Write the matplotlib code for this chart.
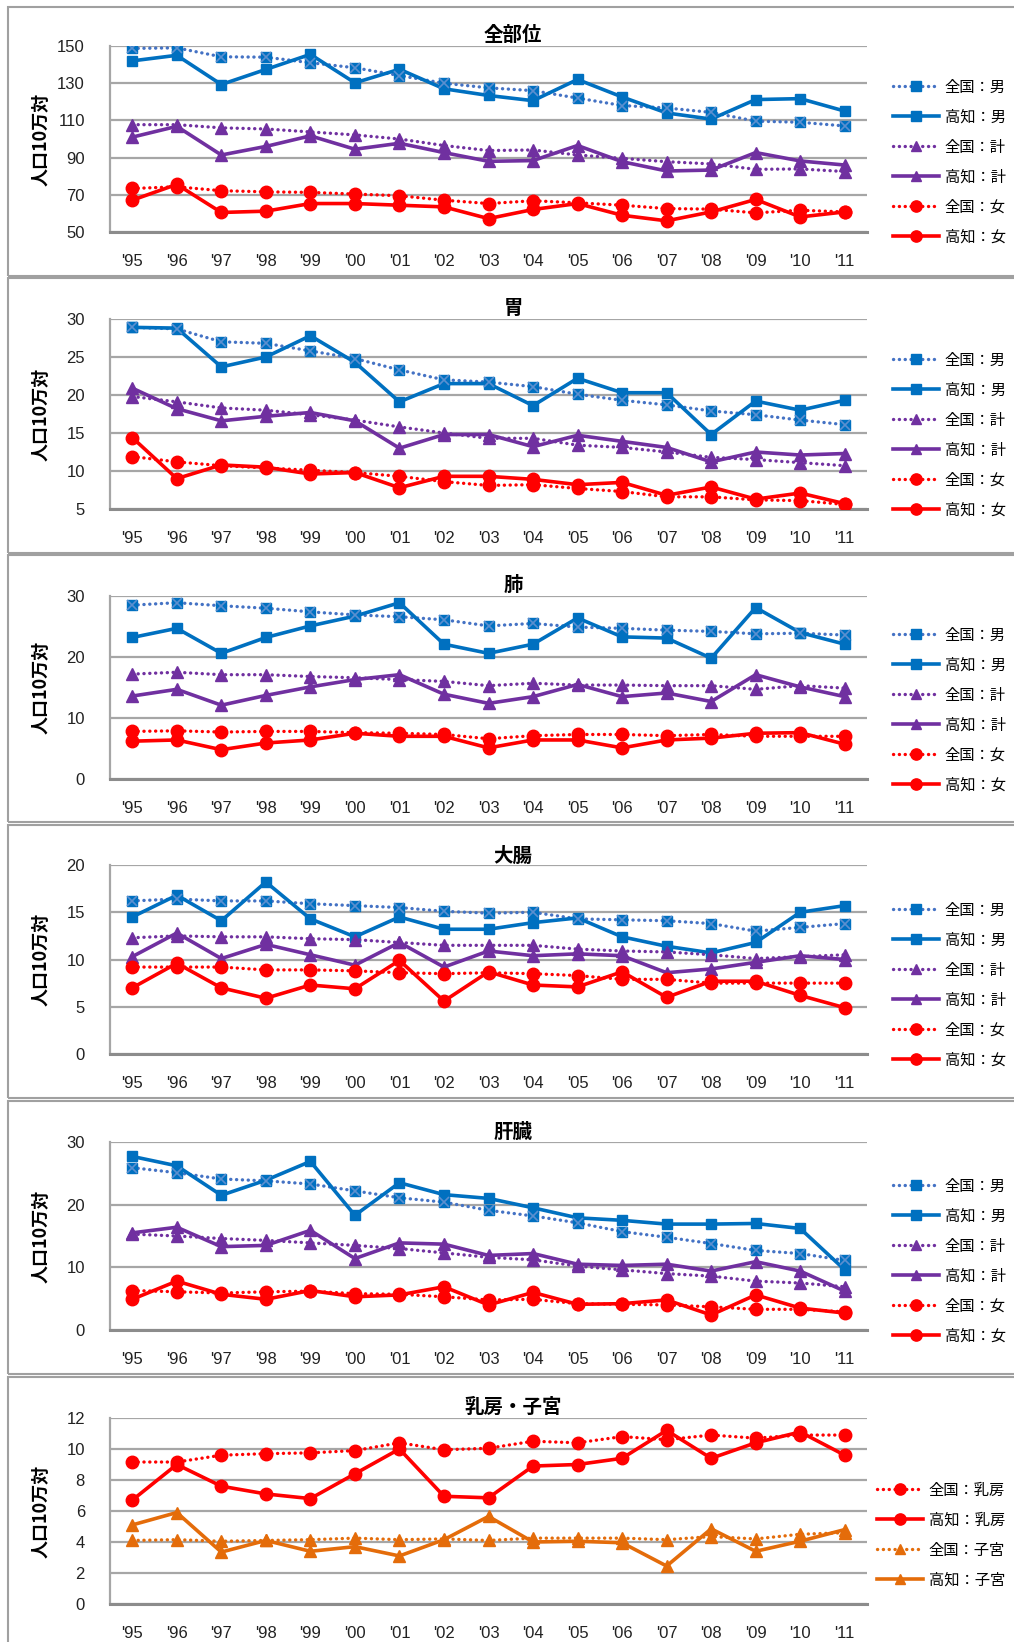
import matplotlib
matplotlib.use('Agg')
import matplotlib.pyplot as plt
from matplotlib.patches import Rectangle

plt.rcParams['font.family'] = ['Noto Sans CJK JP', 'DejaVu Sans']

years = ["'95", "'96", "'97", "'98", "'99", "'00", "'01", "'02", "'03",
         "'04", "'05", "'06", "'07", "'08", "'09", "'10", "'11"]

# 全部位
all_nat_m = [148.7, 149.0, 144.2, 144.0, 141.0, 138.3, 134.1, 130.0, 127.5, 126.0, 122.0, 118.0, 116.7, 114.3, 109.6, 109.0, 107.0]
all_koc_m = [142.0, 145.0, 129.3, 137.4, 145.5, 130.2, 137.5, 127.0, 123.4, 120.6, 132.0, 122.6, 114.0, 110.7, 121.2, 121.7, 115.0]
all_nat_t = [107.7, 107.7, 106.0, 105.4, 103.8, 102.2, 100.0, 96.5, 93.8, 94.1, 91.4, 89.6, 87.8, 86.6, 83.7, 83.9, 82.5]
all_koc_t = [101.0, 106.8, 91.4, 96.0, 101.7, 94.5, 97.7, 92.7, 88.0, 88.4, 96.5, 87.8, 82.8, 83.3, 92.7, 88.2, 86.0]
all_nat_f = [73.4, 74.3, 72.2, 71.6, 71.3, 70.4, 69.5, 67.1, 65.3, 66.8, 65.7, 64.4, 62.6, 62.3, 60.3, 61.7, 60.8]
all_koc_f = [67.1, 75.6, 60.5, 61.2, 65.3, 65.3, 64.4, 63.5, 57.2, 62.1, 65.3, 59.0, 56.0, 60.8, 67.5, 58.1, 60.8]

# 胃
st_nat_m = [28.9, 28.7, 27.0, 26.8, 25.8, 24.8, 23.3, 22.0, 21.7, 21.1, 20.1, 19.3, 18.7, 17.9, 17.4, 16.7, 16.1]
st_koc_m = [28.9, 28.8, 23.7, 25.0, 27.8, 24.3, 19.1, 21.5, 21.5, 18.6, 22.2, 20.3, 20.3, 14.8, 19.2, 18.0, 19.3]
st_nat_t = [19.8, 19.1, 18.3, 18.0, 17.4, 16.7, 15.8, 15.0, 14.3, 14.3, 13.4, 13.1, 12.5, 11.8, 11.5, 11.1, 10.7]
st_koc_t = [20.9, 18.2, 16.6, 17.2, 17.7, 16.6, 13.0, 14.8, 14.8, 13.2, 14.7, 13.9, 13.1, 11.2, 12.5, 12.1, 12.3]
st_nat_f = [11.9, 11.2, 10.7, 10.4, 10.1, 9.8, 9.3, 8.6, 8.1, 8.2, 7.7, 7.3, 6.6, 6.6, 6.2, 6.1, 5.6]
st_koc_f = [14.4, 9.0, 10.8, 10.5, 9.6, 9.8, 7.8, 9.3, 9.3, 8.9, 8.2, 8.5, 6.8, 7.9, 6.3, 7.1, 5.7]

# 肺
lu_nat_m = [28.5, 28.9, 28.4, 28.0, 27.4, 26.9, 26.6, 26.1, 25.1, 25.5, 24.9, 24.7, 24.4, 24.2, 23.8, 23.9, 23.6]
lu_koc_m = [23.2, 24.7, 20.6, 23.2, 25.1, 26.7, 28.9, 22.1, 20.6, 22.1, 26.4, 23.3, 23.1, 19.8, 28.1, 24.0, 22.1]
lu_nat_t = [17.2, 17.5, 17.1, 17.1, 16.8, 16.6, 16.3, 16.0, 15.3, 15.7, 15.4, 15.4, 15.3, 15.3, 14.7, 15.3, 14.9]
lu_koc_t = [13.6, 14.7, 12.1, 13.7, 15.1, 16.3, 17.1, 13.9, 12.4, 13.5, 15.5, 13.5, 14.1, 12.7, 17.1, 15.1, 13.5]
lu_nat_f = [7.8, 7.9, 7.7, 7.8, 7.8, 7.6, 7.5, 7.3, 6.6, 7.1, 7.3, 7.3, 7.1, 7.3, 7.0, 7.0, 7.0]
lu_koc_f = [6.2, 6.4, 4.8, 5.9, 6.4, 7.5, 7.0, 7.0, 5.1, 6.4, 6.4, 5.1, 6.4, 6.7, 7.5, 7.6, 5.7]

# 大腸
co_nat_m = [16.2, 16.4, 16.2, 16.2, 15.9, 15.7, 15.5, 15.1, 14.9, 15.0, 14.3, 14.2, 14.1, 13.8, 13.0, 13.4, 13.8]
co_koc_m = [14.5, 16.8, 14.1, 18.2, 14.3, 12.4, 14.5, 13.2, 13.2, 13.9, 14.4, 12.4, 11.4, 10.7, 11.8, 15.0, 15.7]
co_nat_t = [12.3, 12.5, 12.4, 12.4, 12.2, 12.1, 11.8, 11.5, 11.5, 11.5, 11.1, 10.9, 10.8, 10.5, 10.1, 10.3, 10.5]
co_koc_t = [10.3, 12.8, 10.1, 11.6, 10.5, 9.4, 11.8, 9.2, 10.9, 10.4, 10.6, 10.4, 8.6, 9.0, 9.7, 10.4, 10.0]
co_nat_f = [9.2, 9.2, 9.2, 8.9, 8.9, 8.8, 8.6, 8.5, 8.6, 8.5, 8.3, 7.9, 7.9, 7.5, 7.5, 7.5, 7.5]
co_koc_f = [7.0, 9.6, 7.0, 5.9, 7.3, 6.9, 9.9, 5.6, 8.7, 7.3, 7.1, 8.7, 6.0, 7.7, 7.7, 6.2, 4.9]

# 肝臓
li_nat_m = [25.9, 25.1, 24.1, 23.8, 23.3, 22.2, 21.1, 20.4, 19.1, 18.2, 17.1, 15.7, 14.8, 13.8, 12.7, 12.2, 11.1]
li_koc_m = [27.7, 26.2, 21.5, 23.9, 26.9, 18.3, 23.5, 21.6, 21.0, 19.5, 17.9, 17.5, 16.9, 16.9, 17.0, 16.2, 9.6]
li_nat_t = [15.3, 15.0, 14.6, 14.3, 13.9, 13.5, 13.0, 12.3, 11.6, 11.2, 10.2, 9.6, 9.0, 8.6, 7.8, 7.5, 6.9]
li_koc_t = [15.5, 16.4, 13.3, 13.5, 15.9, 11.4, 13.9, 13.7, 11.9, 12.2, 10.5, 10.3, 10.5, 9.4, 10.9, 9.4, 6.2]
li_nat_f = [6.3, 6.1, 5.9, 6.1, 6.2, 5.8, 5.7, 5.3, 4.8, 4.9, 4.2, 4.1, 4.0, 3.7, 3.3, 3.3, 2.9]
li_koc_f = [4.9, 7.8, 5.7, 4.9, 6.3, 5.3, 5.6, 6.9, 4.0, 6.0, 4.1, 4.2, 4.8, 2.4, 5.6, 3.5, 2.7]

# 乳房・子宮
br_nat = [9.16, 9.16, 9.6, 9.7, 9.75, 9.9, 10.4, 9.95, 10.05, 10.5, 10.4, 10.8, 10.6, 10.9, 10.7, 10.9, 10.9]
br_koc = [6.7, 9.0, 7.6, 7.1, 6.8, 8.4, 10.0, 6.95, 6.85, 8.9, 9.0, 9.4, 11.2, 9.4, 10.4, 11.1, 9.6]
ut_nat = [4.1, 4.15, 4.05, 4.1, 4.15, 4.25, 4.15, 4.2, 4.1, 4.25, 4.25, 4.25, 4.15, 4.35, 4.2, 4.5, 4.6]
ut_koc = [5.1, 5.9, 3.35, 4.1, 3.4, 3.7, 3.1, 4.15, 5.65, 4.0, 4.05, 3.95, 2.45, 4.85, 3.4, 4.05, 4.8]

BLUE = '#0070C0'
BLUE_D = '#4472C4'
PURPLE = '#7030A0'
RED = '#FF0000'
ORANGE = '#E46C0A'
DOT = (0, (0.05, 1.7))

W, H = 1014, 1642
fig = plt.figure(figsize=(W / 100, H / 100), dpi=100)

# panel frames (pixel coords: top, bottom)
frames = [(7, 276), (278, 553), (555, 822), (825, 1098), (1101, 1374), (1377, 1660)]
for top, bot in frames:
    fig.patches.append(Rectangle((8 / W, 1 - bot / H), (W + 20) / W, (bot - top) / H,
                                 transform=fig.transFigure, fill=False,
                                 edgecolor='#A0A0A0', lw=1.5, zorder=0))


def series(kind, label, vals, ax):
    col = {'m': BLUE, 't': PURPLE, 'f': RED, 'b': RED, 'u': ORANGE}[kind[1]]
    mk = {'m': 's', 't': '^', 'f': 'o', 'b': 'o', 'u': '^'}[kind[1]]
    ms = {'s': 7.5, '^': 8.5, 'o': 9}[mk]
    x = range(len(vals))
    if kind[0] == 'n':
        lc = BLUE_D if kind[1] == 'm' else col
        ax.plot(x, vals, color=lc, ls=DOT, lw=2.4, dash_capstyle='round',
                marker=mk, ms=ms, mfc=col, mec=col, label=label, zorder=3)
        if kind[1] == 'm':
            ax.plot(x, vals, ls='none', marker='x', ms=ms - 1, mew=1.2,
                    color='#5B8FD0', zorder=4)
    else:
        ax.plot(x, vals, color=col, ls='-', lw=2.6, marker=mk, ms=ms,
                mfc=col, mec=col, label=label, zorder=3)


def panel(top, bot, title, ylim, yticks, data, leg_y, leg_x, title_y):
    ax = fig.add_axes([110 / W, 1 - bot / H, (867 - 110) / W, (bot - top) / H])
    for kind, label, vals in data:
        series(kind, label, vals, ax)
    ax.set_xlim(-0.5, len(years) - 0.5)
    ax.set_ylim(*ylim)
    ax.set_yticks(yticks)
    ax.set_xticks(range(len(years)))
    ax.set_xticklabels(years)
    ax.grid(axis='y', color='#A6A6A6', lw=1.6)
    ax.set_axisbelow(True)
    for s in ['top', 'right']:
        ax.spines[s].set_visible(False)
    ax.spines['left'].set_color('#A6A6A6')
    ax.spines['left'].set_linewidth(1.6)
    ax.spines['bottom'].set_color('#8C8C8C')
    ax.spines['bottom'].set_linewidth(2.2)
    ax.tick_params(length=0, labelsize=12)
    ax.tick_params(axis='x', pad=16)
    ax.tick_params(axis='y', pad=18)
    for t in ax.get_xticklabels() + ax.get_yticklabels():
        t.set_family(['Liberation Sans Narrow', 'Liberation Sans', 'DejaVu Sans'])
        t.set_color('#222222')
    ax.set_ylabel('人口10万対', fontsize=13, fontweight='bold')
    ax.yaxis.set_label_coords(-(110 - 51) / (867 - 110), 0.5)
    fig.text(513 / W, 1 - title_y / H, title, fontsize=14, fontweight='bold',
             ha='center', va='center')
    ax.legend(loc='center left', bbox_to_anchor=(leg_x / W, 1 - leg_y / H),
              bbox_transform=fig.transFigure, frameon=False, fontsize=11,
              handlelength=3.0, handletextpad=0.4, labelspacing=0.85,
              borderaxespad=0, borderpad=0, markerscale=0.9)
    return ax


panel(46, 232, '全部位', (50, 150), range(50, 151, 20),
      [('nm', '全国：男', all_nat_m), ('km', '高知：男', all_koc_m),
       ('nt', '全国：計', all_nat_t), ('kt', '高知：計', all_koc_t),
       ('nf', '全国：女', all_nat_f), ('kf', '高知：女', all_koc_f)],
      162, 893, 35)

panel(319, 509, '胃', (5, 30), range(5, 31, 5),
      [('nm', '全国：男', st_nat_m), ('km', '高知：男', st_koc_m),
       ('nt', '全国：計', st_nat_t), ('kt', '高知：計', st_koc_t),
       ('nf', '全国：女', st_nat_f), ('kf', '高知：女', st_koc_f)],
      435, 893, 308)

panel(596, 779, '肺', (0, 30), range(0, 31, 10),
      [('nm', '全国：男', lu_nat_m), ('km', '高知：男', lu_koc_m),
       ('nt', '全国：計', lu_nat_t), ('kt', '高知：計', lu_koc_t),
       ('nf', '全国：女', lu_nat_f), ('kf', '高知：女', lu_koc_f)],
      710, 893, 585)

panel(865, 1054, '大腸', (0, 20), range(0, 21, 5),
      [('nm', '全国：男', co_nat_m), ('km', '高知：男', co_koc_m),
       ('nt', '全国：計', co_nat_t), ('kt', '高知：計', co_koc_t),
       ('nf', '全国：女', co_nat_f), ('kf', '高知：女', co_koc_f)],
      985, 893, 856)

panel(1142, 1330, '肝臓', (0, 30), range(0, 31, 10),
      [('nm', '全国：男', li_nat_m), ('km', '高知：男', li_koc_m),
       ('nt', '全国：計', li_nat_t), ('kt', '高知：計', li_koc_t),
       ('nf', '全国：女', li_nat_f), ('kf', '高知：女', li_koc_f)],
      1261, 893, 1132)

panel(1418, 1604, '乳房・子宮', (0, 12), range(0, 13, 2),
      [('nb', '全国：乳房', br_nat), ('kb', '高知：乳房', br_koc),
       ('nu', '全国：子宮', ut_nat), ('ku', '高知：子宮', ut_koc)],
      1535, 877, 1407)

fig.savefig('out.png', dpi=100)
